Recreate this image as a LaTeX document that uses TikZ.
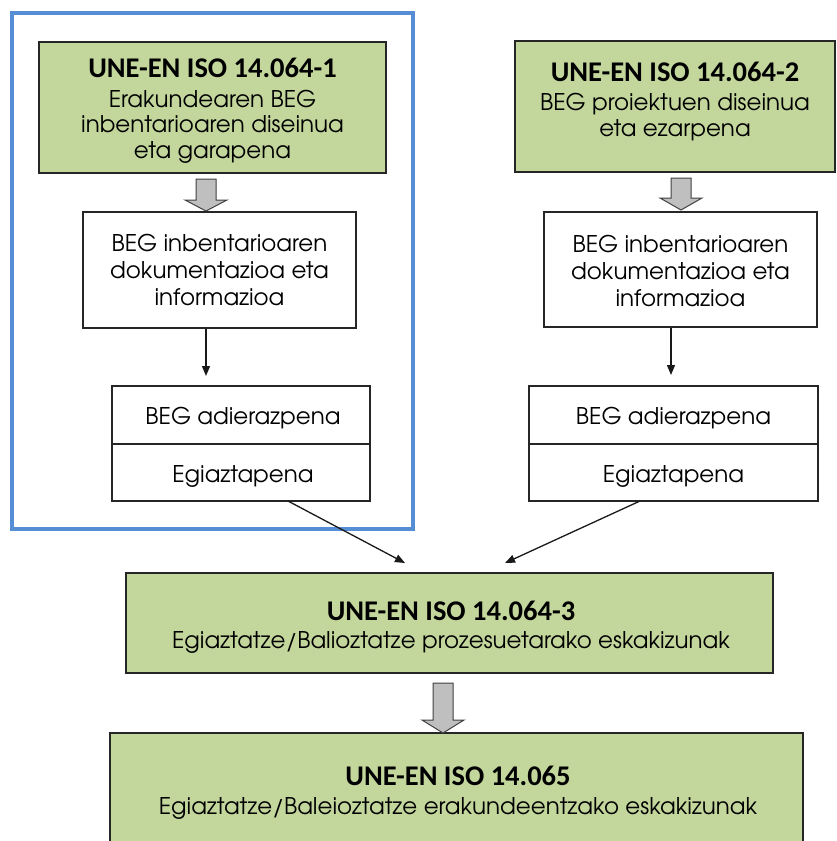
\documentclass[tikz,border=0pt]{standalone}
\usepackage{fontspec}
\setmainfont{TeX Gyre Adventor}
\newfontfamily\hdfont{Carlito}
\usetikzlibrary{arrows.meta}
\definecolor{boxgreen}{HTML}{C3D69B}
\definecolor{frameblue}{HTML}{558ED5}
\definecolor{arrowgray}{HTML}{BFBFBF}
\definecolor{edgegray}{HTML}{262626}
\tikzset{
  box/.style={draw=edgegray, line width=1.4pt, rectangle, inner sep=0pt, fill=white},
  greenbox/.style={box, fill=boxgreen},
  hd/.style={anchor=base, font=\hdfont\bfseries\fontsize{28.5}{30}\selectfont, inner sep=0pt},
  tx/.style={anchor=base, font=\fontsize{23}{26}\selectfont, inner sep=0pt},
  blockarrow/.style={fill=arrowgray, draw=black!75, line width=1pt, line join=miter},
  thinarrow/.style={draw=black!90, line width=1.3pt, -{Triangle[length=10pt,width=8pt]}},
}
\begin{document}
\begin{tikzpicture}[x=1pt,y=-1pt]
\useasboundingbox (0,0) rectangle (836,841);
% frame
\node[draw=frameblue, line width=4pt, minimum width=401pt, minimum height=516pt, inner sep=0pt] (frame) at (212.5,271) {};
% left column
\node[greenbox, minimum width=347pt, minimum height=131pt] (b1) at (212.5,107.5) {};
\node[hd] (b1t1) at (212.5,77) {UNE-EN ISO 14.064-1};
\node[tx] (b1t2) at (212.5,107) {Erakundearen BEG};
\node[tx] (b1t3) at (212.5,132) {inbentarioaren diseinua};
\node[tx] (b1t4) at (212.5,158) {eta garapena};
\node[box, minimum width=273pt, minimum height=116pt] (b2) at (219.5,270) {};
\node[tx] (b2t1) at (219.5,251) {BEG inbentarioaren};
\node[tx] (b2t2) at (219.5,278) {dokumentazioa eta};
\node[tx] (b2t3) at (219.5,305) {informazioa};
\node[box, minimum width=258pt, minimum height=58pt] (b3a) at (241,415) {};
\node[box, minimum width=258pt, minimum height=57pt] (b3b) at (241,472.5) {};
\node[tx] (b3at) at (243,424) {BEG adierazpena};
\node[tx] (b3bt) at (243,482) {Egiaztapena};
% right column
\node[greenbox, minimum width=320pt, minimum height=131pt] (r1) at (675,106.5) {};
\node[hd] (r1t1) at (675,81) {UNE-EN ISO 14.064-2};
\node[tx] (r1t2) at (675,110) {BEG proiektuen diseinua};
\node[tx] (r1t3) at (675,136) {eta ezarpena};
\node[box, minimum width=273pt, minimum height=115pt] (r2) at (680.5,269.5) {};
\node[tx] (r2t1) at (680.5,252) {BEG inbentarioaren};
\node[tx] (r2t2) at (680.5,279) {dokumentazioa eta};
\node[tx] (r2t3) at (680.5,306) {informazioa};
\node[box, minimum width=289pt, minimum height=58pt] (r3a) at (673.5,415) {};
\node[box, minimum width=289pt, minimum height=57pt] (r3b) at (673.5,472.5) {};
\node[tx] (r3at) at (673.5,424) {BEG adierazpena};
\node[tx] (r3bt) at (673.5,482) {Egiaztapena};
% bottom boxes
\node[greenbox, minimum width=647pt, minimum height=100pt] (b4) at (449.5,623) {};
\node[hd] (b4t1) at (451,620) {UNE-EN ISO 14.064-3};
\node[tx] (b4t2) at (451,648) {Egiaztatze/Balioztatze prozesuetarako eskakizunak};
\node[greenbox, minimum width=693pt, minimum height=140pt] (b5) at (456.5,803) {};
\node[hd] (b5t1) at (458,785) {UNE-EN ISO 14.065};
\node[tx] (b5t2) at (458,814) {Egiaztatze/Baleioztatze erakundeentzako eskakizunak};
% block arrows
\coordinate (k1) at (206,179);
\coordinate (k2) at (681,178);
\coordinate (k3) at (443,683);
\draw[blockarrow] (k1) ++(-10,0) -- ++(20,0) -- ++(0,21) -- ++(11,0) -- ++(-21,11) -- ++(-21,-11) -- ++(11,0) -- cycle;
\draw[blockarrow] (k2) ++(-10,0) -- ++(20,0) -- ++(0,20) -- ++(11,0) -- ++(-21,12) -- ++(-21,-12) -- ++(11,0) -- cycle;
\draw[blockarrow] (k3) ++(-10,0) -- ++(20,0) -- ++(0,37) -- ++(11,0) -- ++(-21,13) -- ++(-21,-13) -- ++(11,0) -- cycle;
% thin arrows
\coordinate (e1) at (206,376);
\coordinate (e2) at (671,375);
\draw[thinarrow] (e1 |- b2.south) -- (e1);
\draw[thinarrow] (e2 |- r2.south) -- (e2);
\coordinate (s3) at (288,501);
\coordinate (e3) at (405,563);
\coordinate (s4) at (640,501);
\coordinate (e4) at (505,563);
\draw[thinarrow] (s3) -- (e3);
\draw[thinarrow] (s4) -- (e4);
\end{tikzpicture}
\end{document}
